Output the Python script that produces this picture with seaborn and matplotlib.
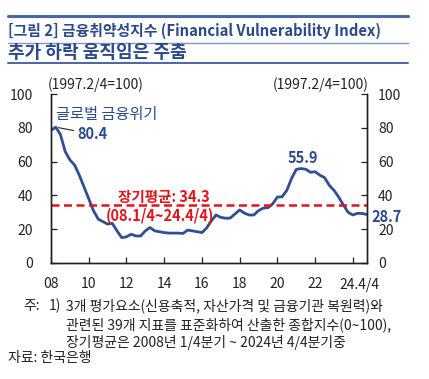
import numpy as np
import pandas as pd
import matplotlib
matplotlib.use("Agg")
import matplotlib.pyplot as plt
import seaborn as sns
from matplotlib.lines import Line2D

# quarterly index, 2008 Q1 .. 2024 Q4
fvi = [78.5, 80.4, 76.0, 66.0, 61.0, 58.0, 52.0, 45.0,
       38.0, 31.0, 26.0, 24.5, 23.0, 23.5, 19.0, 15.0,
       15.5, 17.0, 16.0, 16.0, 19.0, 21.0, 19.0, 18.5,
       18.0, 17.7, 17.7, 17.7, 17.5, 19.5, 19.0, 18.5,
       18.0, 20.7, 25.0, 28.4, 27.0, 26.5, 26.6, 29.0,
       31.4, 29.5, 28.4, 28.4, 31.0, 32.5, 32.7, 35.0,
       39.0, 39.2, 43.0, 50.0, 55.4, 55.9, 55.5, 53.7,
       54.0, 52.0, 50.5, 46.0, 43.0, 39.0, 34.3, 30.0,
       28.4, 29.4, 29.3, 28.7]
long_avg = 34.3
year_ticks = [0, 8, 16, 24, 32, 40, 48, 56, 64]
year_labels = ["08", "10", "12", "14", "16", "18", "20", "22", ""]
y_ticks = [0, 20, 40, 60, 80, 100]

df = pd.DataFrame({"q": np.arange(len(fvi)), "v": fvi})

sns.set_style("ticks")
plt.rcParams["font.family"] = ["Noto Sans CJK KR", "DejaVu Sans"]

BLUE = "#2f4e93"
TBLUE = "#2b4a8c"
RED = "#e3141b"
INK = "#222222"

fig = plt.figure(figsize=(4.29, 3.79), dpi=100)
ax = fig.add_axes([51 / 429, 1 - 263 / 379, 316 / 429, 169 / 379])

sns.lineplot(data=df, x="q", y="v", ax=ax, color=BLUE, linewidth=2.0)
ax.axhline(long_avg, color=RED, linestyle=(0, (3.2, 1.8)), linewidth=1.8)

ax.set_xlim(0, 67)
ax.set_ylim(0, 100)
ax.set_xlabel("")
ax.set_ylabel("")
ax.set_xticks(year_ticks)
ax.set_xticklabels(year_labels)
ax.set_yticks(y_ticks)
ax.tick_params(axis="x", direction="in", length=4, width=0.9, pad=10, labelsize=10, colors=INK)
ax.tick_params(axis="y", direction="in", length=4, width=0.9, pad=13, labelsize=10, colors=INK)
for s in ["left", "right", "bottom"]:
    ax.spines[s].set_linewidth(1.0)
    ax.spines[s].set_color(INK)
ax.spines["top"].set_visible(False)
ax.text(65.5, -0.13, "24.4/4", transform=ax.get_xaxis_transform(), ha="center", va="center",
        fontsize=10, color=INK)

ax2 = ax.twinx()
ax2.set_ylim(0, 100)
ax2.set_yticks(y_ticks)
ax2.tick_params(axis="y", direction="in", length=4, width=0.9, pad=8, labelsize=10, colors=INK)
ax2.spines["top"].set_visible(False)
for s in ["left", "right", "bottom"]:
    ax2.spines[s].set_linewidth(1.0)
    ax2.spines[s].set_color(INK)

# annotations
ax.text(11.8, 87.6, "글로벌 금융위기", color=TBLUE, fontsize=11, ha="center", va="center")
ax.annotate("80.4", xy=(1.0, 80.4), xytext=(5.5, 76.3), color=TBLUE, fontsize=10.5,
            fontweight="bold", va="center", ha="left",
            arrowprops=dict(arrowstyle="-", color=INK, lw=0.8, shrinkA=0, shrinkB=2))
ax.text(53.5, 62.0, "55.9", color=TBLUE, fontsize=10.5, fontweight="bold", ha="center", va="center")
ax.text(68.0, 27.4, "28.7", color=TBLUE, fontsize=10.5, fontweight="bold", ha="left", va="center",
        clip_on=False)
ax.text(24.0, 39.3, "장기평균: 34.3", color=RED, fontsize=10.5, fontweight="bold", ha="center", va="center")
ax.text(23.2, 27.8, "(08.1/4~24.4/4)", color=RED, fontsize=10.5, fontweight="bold", ha="center", va="center")

fig.text(48 / 429, 1 - 85 / 379, "(1997.2/4=100)", fontsize=10, color=INK, va="center", ha="left")
fig.text(369 / 429, 1 - 85 / 379, "(1997.2/4=100)", fontsize=10, color=INK, va="center", ha="right")

# header
fig.add_artist(Line2D([8 / 429, 408 / 429], [1 - 16 / 379] * 2, color="#4a66a3", lw=2.2))
fig.add_artist(Line2D([8 / 429, 408 / 429], [1 - 43 / 379] * 2, color="#7f95c4", lw=1.0))
fig.add_artist(Line2D([8 / 429, 408 / 429], [1 - 63 / 379] * 2, color="#4a66a3", lw=1.4))
fig.text(8 / 429, 1 - 31 / 379, "[그림 2] 금융취약성지수 (Financial Vulnerability Index)",
         fontsize=10.7, fontweight="bold", color=TBLUE, va="center", ha="left")
fig.text(8 / 429, 1 - 53 / 379, "추가 하락 움직임은 주춤",
         fontsize=13, fontweight="bold", color=TBLUE, va="center", ha="left")

# footnotes
fn = 10
fig.text(23 / 429, 1 - 306 / 379, "주:", fontsize=fn, color=INK, va="center")
fig.text(49 / 429, 1 - 306 / 379, "1)", fontsize=fn, color=INK, va="center")
fig.text(66 / 429, 1 - 306 / 379, "3개 평가요소(신용축적, 자산가격 및 금융기관 복원력)와",
         fontsize=fn, color=INK, va="center")
fig.text(66 / 429, 1 - 325 / 379, "관련된 39개 지표를 표준화하여 산출한 종합지수(0~100),",
         fontsize=fn, color=INK, va="center")
fig.text(66 / 429, 1 - 342 / 379, "장기평균은 2008년 1/4분기 ~ 2024년 4/4분기중",
         fontsize=fn, color=INK, va="center")
fig.text(8 / 429, 1 - 358 / 379, "자료: 한국은행", fontsize=fn, color=INK, va="center")

fig.savefig("out.png", dpi=100)
